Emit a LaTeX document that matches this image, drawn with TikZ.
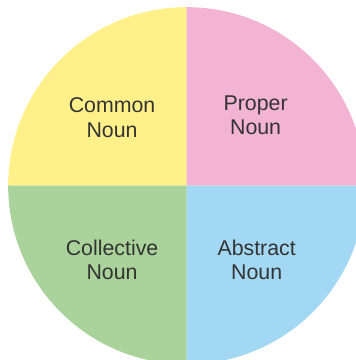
\documentclass[tikz,border=0pt]{standalone}
\usepackage{fontspec}
\setmainfont{Liberation Sans}

\definecolor{commonfill}{HTML}{FFF08A}
\definecolor{properfill}{HTML}{F3B3D3}
\definecolor{collectfill}{HTML}{AAD39B}
\definecolor{abstractfill}{HTML}{A3D8F4}
\definecolor{labeltext}{HTML}{333333}

\tikzset{
  nounlabel/.style={text=labeltext, align=center, inner sep=0pt,
    font=\fontsize{17}{19.5}\selectfont}
}

\begin{document}
\begin{tikzpicture}

\useasboundingbox (-5.229,-4.882) rectangle (4.742,5.201);
\clip (-5.229,-4.882) rectangle (4.742,5.201);

% the four quarters
\fill[commonfill] (0,0) -- (-5,0) arc (180:90:5) -- cycle;
\fill[properfill] (0,0) -- (0,5) arc (90:0:5) -- cycle;
\fill[abstractfill] (0,0) -- (5,0) arc (0:-90:5) -- cycle;
\fill[collectfill] (0,0) -- (0,-5) arc (-90:-180:5) -- cycle;

\node[nounlabel] (common) at (-2.09,1.90) {Common\\Noun};
\node[nounlabel] (proper) at (1.93,1.97) {Proper\\Noun};
\node[nounlabel] (collective) at (-2.09,-2.08) {Collective\\Noun};
\node[nounlabel] (abstract) at (1.96,-2.08) {Abstract\\Noun};

\end{tikzpicture}
\end{document}
